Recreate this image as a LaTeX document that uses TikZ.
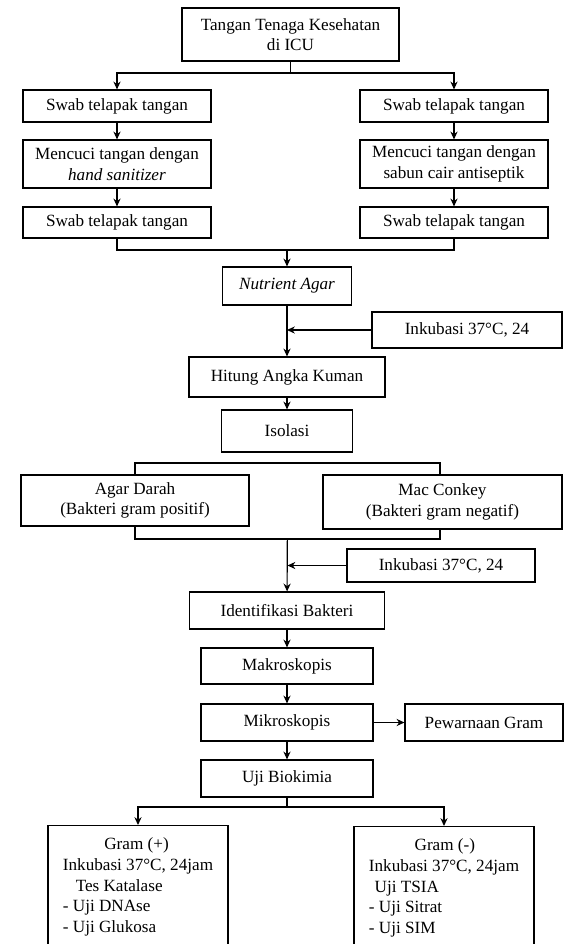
\documentclass[tikz,border=0pt]{standalone}
\usepackage{fontspec}
\setmainfont{Liberation Serif}
\usetikzlibrary{arrows.meta}
\tikzstyle{box}=[draw,rectangle,fill=white,align=center,inner sep=1pt]
\tikzstyle{group}=[draw,rectangle,minimum width=213.5pt,minimum height=53.2pt]
\tikzstyle{result}=[draw,rectangle,fill=white,align=left,anchor=north,minimum width=126pt,minimum height=86pt]

\begin{document}
\begin{tikzpicture}[x=7pt,y=-7pt,line width=0.8pt,>={Stealth[length=5.5pt,width=5pt]},font=\fontsize{12pt}{14.4pt}\selectfont]
\useasboundingbox (0,0) rectangle (56.5,94.4);
\clip (0,0) rectangle (56.5,94.4);

\node[box,minimum width=151.9pt,minimum height=37.1pt] (staff) at (29.05,3.45) {Tangan Tenaga Kesehatan\\di ICU};

\node[box,minimum width=131.6pt,minimum height=22.4pt] (swab-l) at (11.7,10.6) {Swab telapak tangan};
\node[box,minimum width=131.6pt,minimum height=33.6pt] (wash-l) at (11.7,16.4) {Mencuci tangan dengan\\\textit{hand sanitizer}};
\node[box,minimum width=131.6pt,minimum height=21.7pt] (swab2-l) at (11.7,22.25) {Swab telapak tangan};

\node[box,minimum width=131.6pt,minimum height=22.4pt] (swab-r) at (45.4,10.6) {Swab telapak tangan};
\node[box,minimum width=131.6pt,minimum height=33.6pt] (wash-r) at (45.4,16.4) {Mencuci tangan dengan\\sabun cair antiseptik};
\node[box,minimum width=131.6pt,minimum height=21.7pt] (swab2-r) at (45.4,22.25) {Swab telapak tangan};

\node[box,minimum width=90.3pt,minimum height=26.6pt] (nutrient) at (28.7,28.6) {\textit{Nutrient Agar}};
\node[box,minimum width=133pt,minimum height=25.2pt] (incubate) at (46.7,33.0) {Inkubasi 37°C, 24};
\node[box,minimum width=137.2pt,minimum height=28pt] (count) at (28.7,37.7) {Hitung Angka Kuman};
\node[box,minimum width=91.7pt,minimum height=29.4pt] (isolation) at (28.7,43.1) {Isolasi};

\node[group] (media) at (28.75,50.1) {};
\node[box,minimum width=159.6pt,minimum height=35.7pt] (blood-agar) at (13.5,50.05) {Agar Darah\\(Bakteri gram positif)};
\node[box,minimum width=167.3pt,minimum height=37.8pt] (macconkey) at (44.25,50.2) {Mac Conkey\\(Bakteri gram negatif)};

\node[box,minimum width=131.6pt,minimum height=23.1pt] (incubate2) at (44.1,56.55) {Inkubasi 37°C, 24};
\node[box,minimum width=136.5pt,minimum height=25.9pt] (identify) at (28.7,61.05) {Identifikasi Bakteri};
\node[box,minimum width=120.4pt,minimum height=25.2pt] (macro) at (28.7,66.6) {Makroskopis};
\node[box,minimum width=120.4pt,minimum height=25.9pt] (micro) at (28.7,72.25) {Mikroskopis};
\node[box,minimum width=110.6pt,minimum height=25.9pt] (stain) at (48.4,72.25) {Pewarnaan Gram};
\node[box,minimum width=120.4pt,minimum height=25.9pt] (biochem) at (28.7,77.85) {Uji Biokimia};

\node[result] (gram-pos) at (13.8,82.5) {\hspace*{29pt}Gram (+)\\Inkubasi 37°C, 24jam\\\hspace*{9pt}Tes Katalase\\- Uji DNAse\\- Uji Glukosa};
\node[result] (gram-neg) at (44.4,82.6) {\hspace*{32pt}Gram (-)\\Inkubasi 37°C, 24jam\\\hspace*{4pt}Uji TSIA\\- Uji Sitrat\\- Uji SIM};

\coordinate (split) at (29.05,7.3);
\coordinate (merge) at (28.7,25.0);
\coordinate (split2) at (28.7,80.7);

\draw (staff)--(split);
\draw[->] (split)-|(swab-l);
\draw[->] (split)-|(swab-r);

\draw[->] (swab-l)--(wash-l);
\draw[->] (wash-l)--(swab2-l);
\draw[->] (swab-r)--(wash-r);
\draw[->] (wash-r)--(swab2-r);

\draw (swab2-l)|-(merge);
\draw (swab2-r)|-(merge);
\draw[->] (merge)--(nutrient);

\draw[->] (nutrient)--(count);
\draw[->] (incubate)--(incubate-|nutrient);
\draw[->] (count)--(isolation);

\draw[->] (media)--(identify);
\draw[->] (incubate2)--(incubate2-|media);
\draw[->] (identify)--(macro);
\draw[->] (macro)--(micro);
\draw[->] (micro)--(stain);
\draw[->] (micro)--(biochem);

\draw (biochem)--(split2);
\draw[->] (split2)-|(gram-pos);
\draw[->] (split2)-|(gram-neg);
\end{tikzpicture}
\end{document}
